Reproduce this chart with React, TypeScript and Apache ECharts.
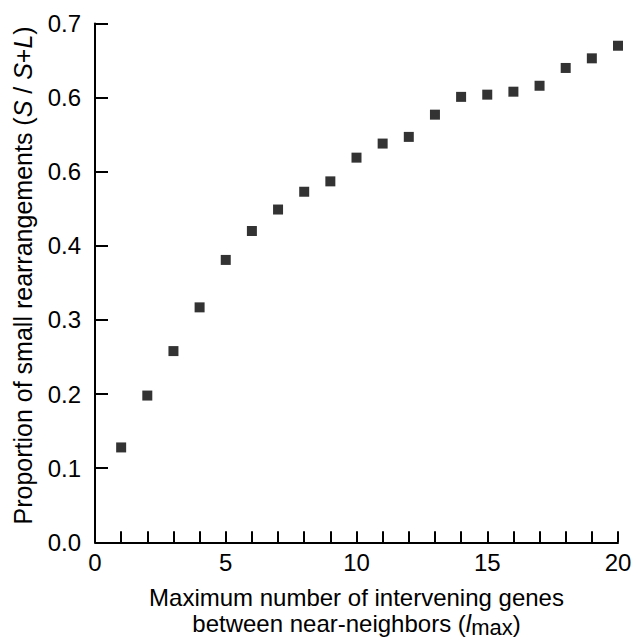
import React, { useEffect, useRef } from "react";
import * as echarts from "echarts";

const xValues = [1, 2, 3, 4, 5, 6, 7, 8, 9, 10, 11, 12, 13, 14, 15, 16, 17, 18, 19, 20];
const yValues = [0.128, 0.198, 0.258, 0.317, 0.381, 0.42, 0.449, 0.473, 0.487, 0.519, 0.538, 0.547, 0.577, 0.601, 0.604, 0.608, 0.616, 0.64, 0.653, 0.67];
const yTickLabels = ["0.0", "0.1", "0.2", "0.3", "0.4", "0.6", "0.6", "0.7"];
const xTickLabels: Record<number, string> = { 0: "0", 5: "5", 10: "10", 15: "15", 20: "20" };

const FONT = "'Liberation Sans', Arial, Helvetica, sans-serif";

export default function App() {
  const ref = useRef<HTMLDivElement>(null);
  useEffect(() => {
    if (!ref.current) return;
    const chart = echarts.init(ref.current, null, { renderer: "svg" });
    const data = xValues.map((x, i) => [x, yValues[i]]);
    chart.setOption({
      animation: false,
      backgroundColor: "#ffffff",
      textStyle: { fontFamily: FONT, color: "#000" },
      grid: { left: 95, right: 14, top: 23.5, bottom: 96.7, containLabel: false, outerBoundsMode: "none" },
      xAxis: {
        type: "value",
        min: 0,
        max: 20,
        interval: 1,
        splitLine: { show: false },
        axisLine: { show: true, lineStyle: { color: "#000", width: 2 } },
        axisTick: { show: true, inside: true, length: 11, lineStyle: { color: "#000", width: 2 } },
        axisLabel: {
          color: "#000",
          fontFamily: FONT,
          fontSize: 24,
          margin: 8,
          formatter: (v: number) => xTickLabels[Math.round(v)] ?? "",
        },
        name: "Maximum number of intervening genes\nbetween near-neighbors ({i|l}{sub|max})",
        nameLocation: "middle",
        nameGap: 42,
        nameTextStyle: {
          color: "#000",
          fontFamily: FONT,
          fontSize: 24,
          lineHeight: 26,
          rich: {
            i: { fontFamily: FONT, fontSize: 24, fontStyle: "italic", color: "#000", lineHeight: 26 },
            sub: { fontFamily: FONT, fontSize: 22, color: "#000", lineHeight: 26, padding: [8, 0, 0, 0] },
          },
        },
      },
      yAxis: {
        type: "value",
        min: 0,
        max: 0.7,
        interval: 0.1,
        splitLine: { show: false },
        axisLine: { show: true, lineStyle: { color: "#000", width: 2 } },
        axisTick: { show: true, inside: true, length: 13, lineStyle: { color: "#000", width: 2 } },
        axisLabel: {
          color: "#000",
          fontFamily: FONT,
          fontSize: 24,
          margin: 14,
          formatter: (v: number) => yTickLabels[Math.round(v * 10)] ?? "",
        },
        name: "Proportion of small rearrangements ({i|S} / {i|S}+{i|L})",
        nameLocation: "middle",
        nameGap: 60,
        nameTextStyle: {
          color: "#000",
          fontFamily: FONT,
          fontSize: 25,
          padding: [0, 0, 0, 15],
          rich: {
            i: { fontFamily: FONT, fontSize: 25, fontStyle: "italic", color: "#000" },
          },
        },
      },
      series: [
        {
          type: "scatter",
          data,
          symbol: "rect",
          symbolSize: 10,
          itemStyle: { color: "#000" },
        },
      ],
    });
    return () => chart.dispose();
  }, []);
  return <div ref={ref} style={{ position: "fixed", left: 0, top: 0, width: 632, height: 639 }} />;
}
